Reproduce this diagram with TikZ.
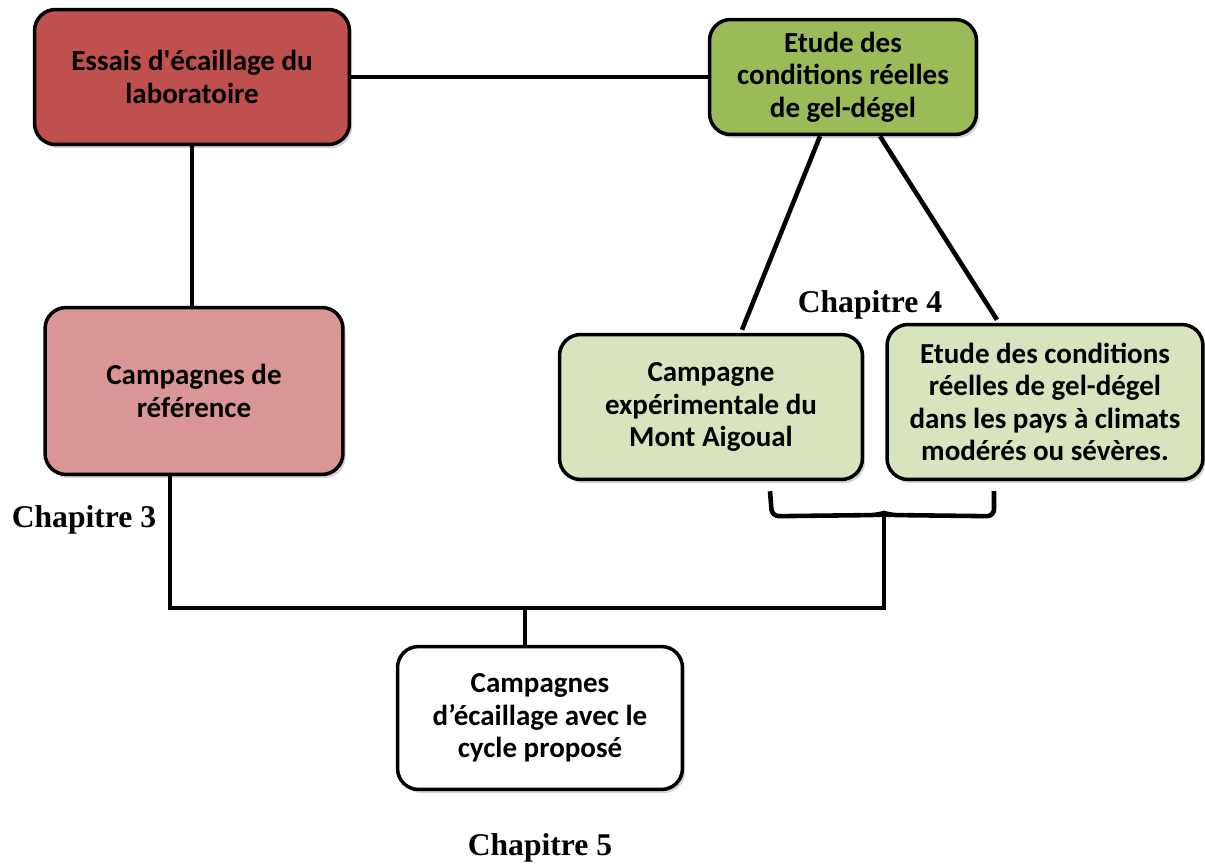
\documentclass[tikz,border=0pt]{standalone}
\usepackage{fontspec}
\setmainfont{Carlito}
\newfontfamily\chapfont{Liberation Serif}
\usepackage{tikz}
\usetikzlibrary{positioning,calc,shadows}
\definecolor{rougeBox}{RGB}{192,80,77}
\definecolor{vertBox}{RGB}{155,187,89}
\definecolor{roseBox}{RGB}{217,150,148}
\definecolor{vertClair}{RGB}{215,228,189}

\begin{document}
\begin{tikzpicture}[x=0.02cm,y=-0.02cm,
    boite/.style={draw=black, line width=2pt, rounded corners=12pt, align=center,
        font=\fontsize{16.5}{18.5}\selectfont\bfseries,
        drop shadow={shadow xshift=1.5pt, shadow yshift=-2pt, opacity=0.35}},
    lien/.style={line width=2.6pt},
    chap/.style={font=\chapfont\fontsize{18}{21}\selectfont\bfseries}]
    \useasboundingbox (0,0) rectangle (1205,865);

    \node[boite, fill=rougeBox, minimum width=6.3cm, minimum height=2.7cm] (essais) at (192,77) {Essais d\textquotesingle écaillage du\\laboratoire};
    \node[boite, fill=vertBox, minimum width=5.34cm, minimum height=2.3cm] (etude) at (843,77) {Etude des\\conditions réelles\\de gel-dégel};
    \node[boite, fill=roseBox, minimum width=5.96cm, minimum height=3.34cm] (ref) at (194,391) {Campagnes de\\référence};
    \node[boite, fill=vertClair, minimum width=6.06cm, minimum height=2.9cm] (aigoual) at (711,407) {Campagne\\expérimentale du\\Mont Aigoual};
    \node[boite, fill=vertClair, minimum width=6.32cm, minimum height=3.1cm] (climats) at (1045,402) {Etude des conditions\\réelles de gel-dégel\\dans les pays à climats\\modérés ou sévères.};
    \node[boite, fill=white, minimum width=5.7cm, minimum height=2.86cm] (cycle) at (540,718) {Campagnes\\d’écaillage avec le\\cycle proposé};

    \node[chap] (chap3) at (84,520) {Chapitre 3};
    \node[chap] (chap4) at (870,305) {Chapitre 4};
    \node[chap] (chap5) at (540,848) {Chapitre 5};

    \coordinate (pointe) at (884,513);
    \coordinate (angle) at (884,608);
    \coordinate (bus) at (525,608);

    \draw[lien] (essais.east) -- (etude.west);
    \draw[lien] (essais.south) -- (essais.south |- ref.north);
    \draw[lien] ($(etude.south)+(-23,0)$) -- ($(aigoual.north)+(31,-3)$);
    \draw[lien] ($(etude.south)+(37,0)$) -- ($(climats.north)+(-48,-3)$);

    \draw[lien] ($(ref.south)+(-24,0)$) |- (angle) -- (pointe);
    \draw[lien] (bus) -- (bus |- cycle.north);
    \draw[lien, rounded corners=4pt] ($(aigoual.south)+(59,10)$) -- ($(aigoual.south)+(61,35)$)
        -- ($(pointe)+(-6,2)$) -- (pointe) -- ($(pointe)+(6,2)$)
        -- ($(climats.south)+(-51,35)$) -- ($(climats.south)+(-51,10)$);
\end{tikzpicture}
\end{document}
